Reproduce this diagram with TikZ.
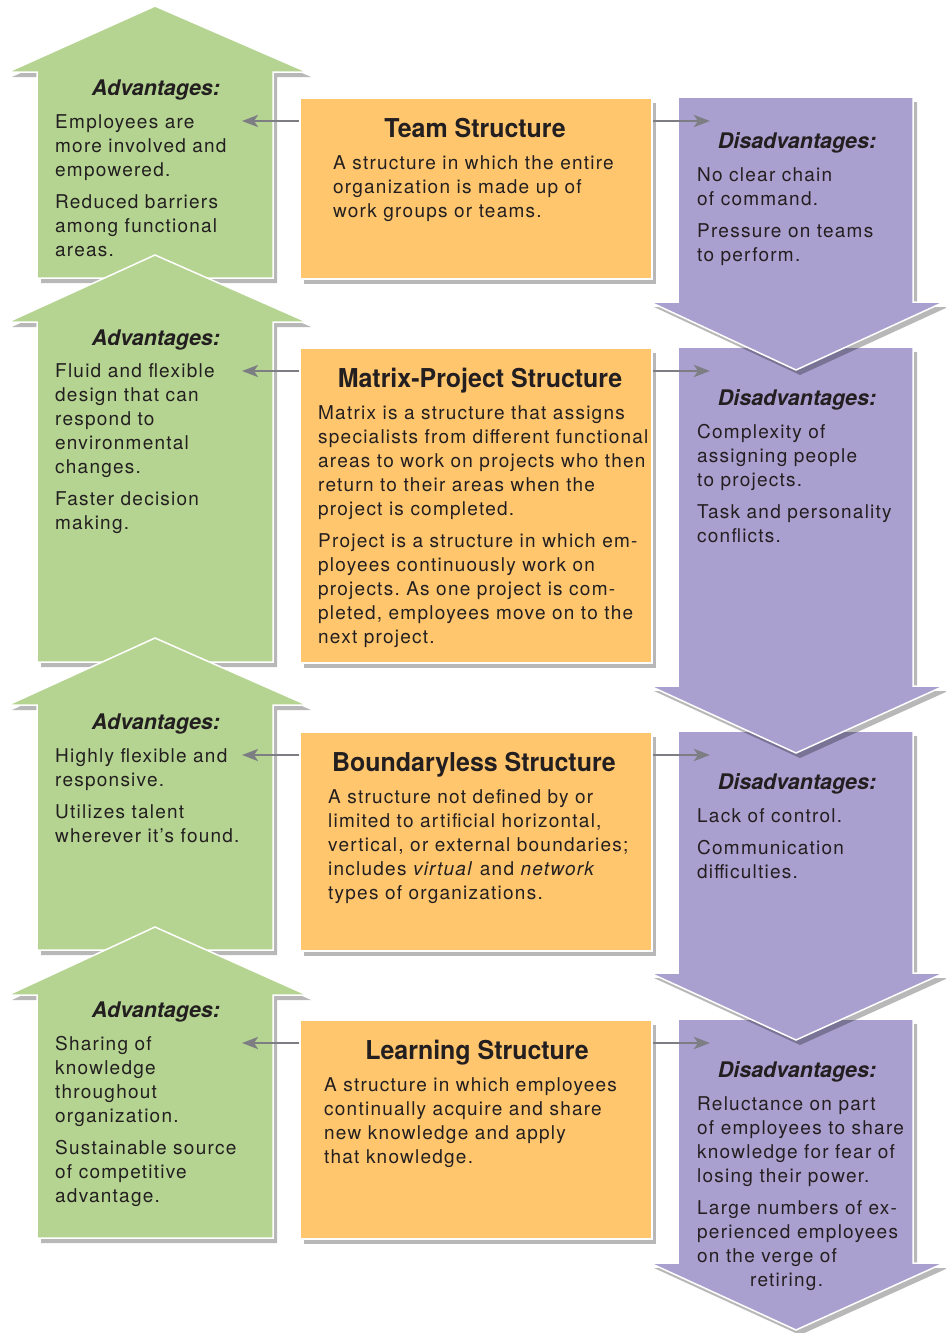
\documentclass[tikz,border=0pt]{standalone}
\usepackage{fontspec}
\setmainfont{TeX Gyre Heros}
\newfontfamily\bodyfont{TeX Gyre Heros}[LetterSpace=6.5]
\newfontfamily\titlefont{TeX Gyre Heros}[FakeStretch=0.96]
\usetikzlibrary{arrows.meta,shadows}
\definecolor{advgreen}{RGB}{181,212,145}
\definecolor{dispurple}{RGB}{169,160,207}
\definecolor{strorange}{RGB}{255,198,110}
\definecolor{conngray}{RGB}{125,125,132}
\definecolor{txt}{RGB}{35,31,32}
\frenchspacing
\tikzset{
  myshadow/.style={drop shadow={shadow xshift=4pt, shadow yshift=-5pt, opacity=0.28, fill=black}},
  advshape/.style={fill=advgreen, draw=white, line width=1.5pt, myshadow},
  disshape/.style={fill=dispurple, draw=white, line width=1.5pt, myshadow},
  strbox/.style={fill=strorange, draw=white, line width=1.5pt, myshadow, anchor=north west, inner sep=0pt},
  bodytxt/.style={anchor=north west, inner sep=0pt, align=left, text=txt,
    font=\bodyfont\fontsize{19}{24}\selectfont\frenchspacing},
  headtxt/.style={anchor=base, inner sep=0pt, text=txt,
    font=\bfseries\itshape\fontsize{21.5}{24}\selectfont},
  titletxt/.style={anchor=base, inner sep=0pt, text=txt,
    font=\titlefont\bfseries\fontsize{26}{30}\selectfont},
  conn/.style={draw=conngray, line width=2.5pt, -{Stealth[length=16pt,width=12pt,inset=4pt]}}
}
\newcommand\advarrow[3]{% tip y, head base y, bottom y
  \path[advshape] (155,#1) -- (307,#2) -- (273,#2) -- (273,#3) -- (37,#3) -- (37,#2) -- (8,#2) -- cycle;}
\newcommand\disarrow[3]{% top y, head base y, tip y
  \path[disshape] (678,#1) -- (913,#1) -- (913,#2) -- (944,#2) -- (796,#3) -- (650,#2) -- (678,#2) -- cycle;}
\begin{document}
\begin{tikzpicture}[x=1pt,y=-1pt]
\fill[white] (0,0) rectangle (945,1333);
\useasboundingbox (0,0) rectangle (945,1333);

% green advantage arrows (top to bottom)
\advarrow{6}{72}{278}
\advarrow{255}{322}{662}
\advarrow{638}{705}{950}
\advarrow{927}{995}{1238}

% purple disadvantage arrows (bottom to top)
\disarrow{1019}{1263}{1330}
\disarrow{731}{973}{1040}
\disarrow{347}{686}{753}
\disarrow{97}{302}{370}

% orange structure boxes
\node[strbox, minimum width=352pt, minimum height=181pt] (o1) at (299,97) {};
\node[strbox, minimum width=352pt, minimum height=315pt] (o2) at (299,347) {};
\node[strbox, minimum width=352pt, minimum height=219pt] (o3) at (299,731) {};
\node[strbox, minimum width=352pt, minimum height=219pt] (o4) at (299,1019) {};

% titles
\node[titletxt] (t1) at (475,137) {Team Structure};
\node[titletxt] (t2) at (480,387) {Matrix-Project Structure};
\node[titletxt] (t3) at (474,771) {Boundaryless Structure};
\node[titletxt] (t4) at (477,1059) {Learning Structure};

% structure texts
\node[bodytxt] (s1) at (333,152.2) {\strut A structure in which the entire\\organization is made up of\\work groups or teams.};
\node[bodytxt] (s2) at (318,402.2) {\strut Matrix is a structure that assigns\\specialists from different functional\\areas to work on projects who then\\return to their areas when the\\project is completed.\\[8pt]Project is a structure in which em-\\ployees continuously work on\\projects. As one project is com-\\pleted, employees move on to the\\next project.};
\node[bodytxt] (s3) at (328,786.2) {\strut A structure not defined by or\\limited to artificial horizontal,\\vertical, or external boundaries;\\includes \textit{virtual} and \textit{network}\\types of organizations.};
\node[bodytxt] (s4) at (324,1074.2) {\strut A structure in which employees\\continually acquire and share\\new knowledge and apply\\that knowledge.};

% advantages
\node[headtxt] (a1h) at (156,95) {Advantages:};
\node[headtxt] (a2h) at (156,345) {Advantages:};
\node[headtxt] (a3h) at (156,729) {Advantages:};
\node[headtxt] (a4h) at (156,1017) {Advantages:};
\node[bodytxt] (a1) at (55,111.2) {\strut Employees are\\more involved and\\empowered.\\[8pt]Reduced barriers\\among functional\\areas.};
\node[bodytxt] (a2) at (55,360.2) {\strut Fluid and flexible\\design that can\\respond to\\environmental\\changes.\\[8pt]Faster decision\\making.};
\node[bodytxt] (a3) at (55,745.2) {\strut Highly flexible and\\responsive.\\[8pt]Utilizes talent\\wherever it’s found.};
\node[bodytxt] (a4) at (55,1033.2) {\strut Sharing of\\knowledge\\throughout\\organization.\\[8pt]Sustainable source\\of competitive\\advantage.};

% disadvantages
\node[headtxt] (d1h) at (797,148) {Disadvantages:};
\node[headtxt] (d2h) at (797,405) {Disadvantages:};
\node[headtxt] (d3h) at (797,789) {Disadvantages:};
\node[headtxt] (d4h) at (797,1077) {Disadvantages:};
\node[bodytxt] (d1) at (697,164.2) {\strut No clear chain\\of command.\\[8pt]Pressure on teams\\to perform.};
\node[bodytxt] (d2) at (697,421.2) {\strut Complexity of\\assigning people\\to projects.\\[8pt]Task and personality\\conflicts.};
\node[bodytxt] (d3) at (697,805.2) {\strut Lack of control.\\[8pt]Communication\\difficulties.};
\node[bodytxt] (d4) at (697,1093.2) {\strut Reluctance on part\\of employees to share\\knowledge for fear of\\losing their power.\\[8pt]Large numbers of ex-\\perienced employees\\on the verge of\\\hspace*{53pt}retiring.};

% connectors
\coordinate (la1) at (242,121); \coordinate (ra1) at (710,121);
\coordinate (la2) at (242,371); \coordinate (ra2) at (710,371);
\coordinate (la3) at (242,755); \coordinate (ra3) at (710,755);
\coordinate (la4) at (242,1043); \coordinate (ra4) at (710,1043);
\draw[conn] (o1.west |- la1) -- (la1);
\draw[conn] (o1.east |- ra1) -- (ra1);
\draw[conn] (o2.west |- la2) -- (la2);
\draw[conn] (o2.east |- ra2) -- (ra2);
\draw[conn] (o3.west |- la3) -- (la3);
\draw[conn] (o3.east |- ra3) -- (ra3);
\draw[conn] (o4.west |- la4) -- (la4);
\draw[conn] (o4.east |- ra4) -- (ra4);
\end{tikzpicture}
\end{document}
